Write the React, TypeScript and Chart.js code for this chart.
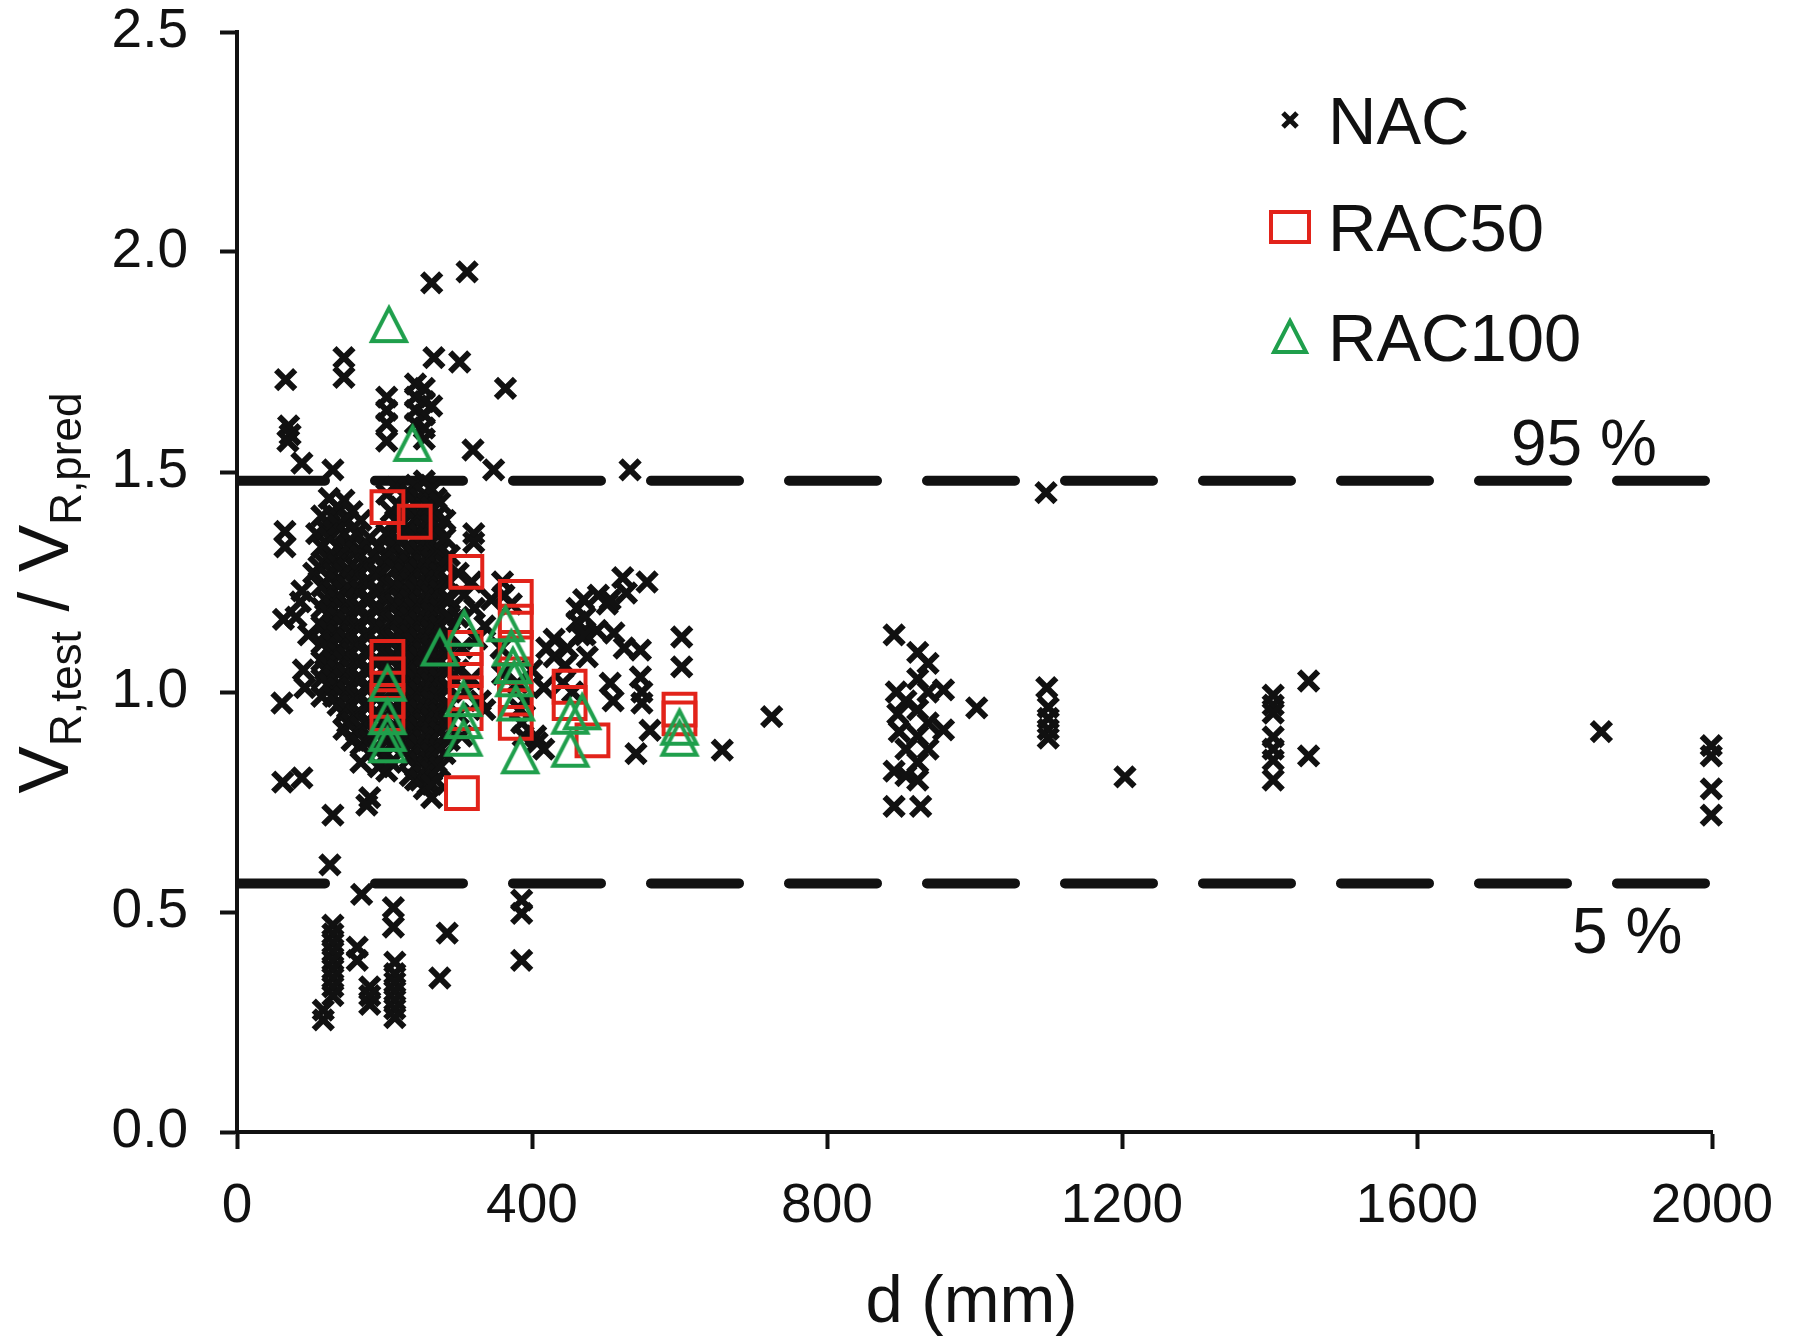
import React, { useEffect, useRef } from 'react';
import { Chart, registerables } from 'chart.js';

Chart.register(...registerables);

type P = [number, number];

// ---------- data ----------
const SERIES_NAMES = ['NAC', 'RAC50', 'RAC100'];
const X_TITLE = 'd (mm)';
const X_MIN = 0;
const X_MAX = 2000;
const X_STEP = 400;
const Y_MIN = 0;
const Y_MAX = 2.5;
const Y_STEP = 0.5;
const LIMIT_95 = 1.48;
const LIMIT_5 = 0.565;
const LIMIT_LABELS = ['95 %', '5 %'];

const NAC_LEFT: P[] = [
  [66, 1.71], [70, 1.605], [72, 1.585], [69, 1.57], [88, 1.52], [65, 1.365], [65, 1.33], [63, 1.165],
  [61, 0.975], [62, 0.795], [88, 0.805], [108, 1.36], [111, 1.285], [104, 1.27], [88, 1.23], [86, 1.205],
  [90, 1.05], [92, 1.01], [97, 1.13], [80, 1.17], [130, 1.505],
];

const NAC_CORE_A: P[] = [
  [115, 1.40], [115, 1.33], [115, 1.24], [115, 1.19], [115, 1.15], [115, 1.11], [115, 1.07], [115, 1.03], [115, 0.99],
  [120, 1.37], [120, 1.29], [120, 1.21], [120, 1.13], [120, 1.05],
  [125, 1.44], [125, 1.38], [125, 1.35], [125, 1.30], [125, 1.26], [125, 1.22], [125, 1.18], [125, 1.14], [125, 1.10], [125, 1.06], [125, 1.02],
  [131, 1.40], [131, 1.31], [131, 1.27], [131, 1.23], [131, 1.19], [131, 1.15], [131, 1.11], [131, 1.07], [131, 1.03], [131, 0.99],
  [137, 1.42], [137, 1.38], [137, 1.33], [137, 1.29], [137, 1.25], [137, 1.21], [137, 1.17], [137, 1.13], [137, 1.09], [137, 1.05], [137, 1.01], [137, 0.97],
  [145, 1.76], [145, 1.715], [145, 1.436], [145, 1.36], [145, 1.31], [145, 1.27], [145, 1.23], [145, 1.19], [145, 1.15], [145, 1.11], [145, 1.07], [145, 1.03], [145, 0.99], [145, 0.95], [145, 0.915],
  [150, 1.39], [150, 1.33], [150, 1.28], [150, 1.24], [150, 1.20], [150, 1.16], [150, 1.12], [150, 1.08], [150, 1.04], [150, 1.00], [150, 0.96], [150, 0.93],
  [156, 1.41], [156, 1.34], [156, 1.29], [156, 1.25], [156, 1.21], [156, 1.17], [156, 1.13], [156, 1.09], [156, 1.05], [156, 1.01], [156, 0.97], [156, 0.93], [156, 0.89],
  [162, 1.36], [162, 1.32], [162, 1.28], [162, 1.24], [162, 1.19], [162, 1.15], [162, 1.11], [162, 1.07], [162, 1.03], [162, 0.99], [162, 0.95], [162, 0.91],
  [168, 1.39], [168, 1.31], [168, 1.27], [168, 1.23], [168, 1.19], [168, 1.15], [168, 1.11], [168, 1.07], [168, 1.03], [168, 0.99], [168, 0.95], [168, 0.92], [168, 0.88], [168, 0.84],
  [174, 1.33], [174, 1.29], [174, 1.25], [174, 1.21], [174, 1.17], [174, 1.13], [174, 1.09], [174, 1.05], [174, 1.01], [174, 0.97], [174, 0.93], [174, 0.89],
  [180, 1.35], [180, 1.29], [180, 1.25], [180, 1.21], [180, 1.17], [180, 1.13], [180, 1.09], [180, 1.05], [180, 1.01], [180, 0.97], [180, 0.93], [180, 0.89], [180, 0.76],
  [186, 1.31], [186, 1.27], [186, 1.23], [186, 1.19], [186, 1.15], [186, 1.11], [186, 1.07], [186, 1.03], [186, 0.99], [186, 0.95], [186, 0.91], [186, 0.87],
  [192, 1.33], [192, 1.27], [192, 1.23], [192, 1.19], [192, 1.15], [192, 1.11], [192, 1.07], [192, 1.03], [192, 0.99], [192, 0.95], [192, 0.91], [192, 0.87], [192, 0.83],
];

const NAC_CORE_B: P[] = [
  [203, 1.67], [203, 1.64], [203, 1.61], [203, 1.57], [203, 1.45], [203, 1.36], [203, 1.31], [203, 1.26], [203, 1.22], [203, 1.18], [203, 1.14], [203, 1.10], [203, 1.06], [203, 1.02], [203, 0.98], [203, 0.94], [203, 0.90], [203, 0.86], [203, 0.82],
  [209, 1.41], [209, 1.33], [209, 1.29], [209, 1.24], [209, 1.20], [209, 1.16], [209, 1.12], [209, 1.08], [209, 1.04], [209, 1.00], [209, 0.96], [209, 0.92], [209, 0.88], [209, 0.84],
  [215, 1.465], [215, 1.39], [215, 1.33], [215, 1.28], [215, 1.24], [215, 1.20], [215, 1.16], [215, 1.12], [215, 1.08], [215, 1.04], [215, 1.00], [215, 0.96], [215, 0.92], [215, 0.88],
  [222, 1.42], [222, 1.38], [222, 1.34], [222, 1.29], [222, 1.25], [222, 1.21], [222, 1.17], [222, 1.13], [222, 1.09], [222, 1.05], [222, 1.01], [222, 0.97], [222, 0.93], [222, 0.89],
  [228, 1.45], [228, 1.37], [228, 1.31], [228, 1.27], [228, 1.23], [228, 1.19], [228, 1.15], [228, 1.11], [228, 1.07], [228, 1.03], [228, 0.99], [228, 0.95], [228, 0.91], [228, 0.87],
  [235, 1.45], [235, 1.41], [235, 1.37], [235, 1.33], [235, 1.29], [235, 1.25], [235, 1.21], [235, 1.17], [235, 1.13], [235, 1.09], [235, 1.05], [235, 1.01], [235, 0.97], [235, 0.93], [235, 0.89], [235, 0.85], [235, 0.81],
  [242, 1.70], [242, 1.67], [242, 1.64], [242, 1.61], [242, 1.47], [242, 1.43], [242, 1.39], [242, 1.35], [242, 1.31], [242, 1.27], [242, 1.23], [242, 1.19], [242, 1.15], [242, 1.11], [242, 1.07], [242, 1.03], [242, 0.99], [242, 0.95], [242, 0.91], [242, 0.87], [242, 0.83], [242, 0.80],
  [248, 1.44], [248, 1.40], [248, 1.36], [248, 1.32], [248, 1.28], [248, 1.24], [248, 1.20], [248, 1.16], [248, 1.12], [248, 1.08], [248, 1.04], [248, 1.00], [248, 0.96], [248, 0.92], [248, 0.88], [248, 0.84], [248, 0.80],
  [254, 1.69], [254, 1.66], [254, 1.63], [254, 1.60], [254, 1.575], [254, 1.48], [254, 1.45], [254, 1.41], [254, 1.37], [254, 1.33], [254, 1.29], [254, 1.25], [254, 1.21], [254, 1.17], [254, 1.13], [254, 1.09], [254, 1.05], [254, 1.01], [254, 0.97], [254, 0.93], [254, 0.89], [254, 0.85], [254, 0.81], [254, 0.78],
  [259, 1.43], [259, 1.39], [259, 1.35], [259, 1.31], [259, 1.27], [259, 1.23], [259, 1.19], [259, 1.15], [259, 1.11], [259, 1.07], [259, 1.03], [259, 0.99], [259, 0.95], [259, 0.91], [259, 0.87], [259, 0.83], [259, 0.79],
  [264, 1.93], [267, 1.76], [264, 1.65], [264, 1.46], [264, 1.42], [264, 1.38], [264, 1.34], [264, 1.30], [264, 1.26], [264, 1.22], [264, 1.18], [264, 1.14], [264, 1.10], [264, 1.06], [264, 1.02], [264, 0.98], [264, 0.94], [264, 0.90], [264, 0.86], [264, 0.82], [264, 0.79], [264, 0.76],
  [270, 1.44], [270, 1.40], [270, 1.36], [270, 1.32], [270, 1.28], [270, 1.24], [270, 1.20], [270, 1.16], [270, 1.12], [270, 1.08], [270, 1.04], [270, 1.00], [270, 0.96], [270, 0.92], [270, 0.88], [270, 0.84], [270, 0.80],
  [275, 1.43], [275, 1.37], [275, 1.32], [275, 1.27], [275, 1.23], [275, 1.19], [275, 1.15], [275, 1.11], [275, 1.07], [275, 1.03], [275, 0.99], [275, 0.95], [275, 0.91], [275, 0.87], [275, 0.83],
  [282, 1.39], [282, 1.35], [282, 1.29], [282, 1.25], [282, 1.21], [282, 1.17], [282, 1.13], [282, 1.09], [282, 1.05], [282, 1.01], [282, 0.97], [282, 0.93], [282, 0.90], [282, 0.86],
  [288, 1.31], [288, 1.25], [288, 1.21], [288, 1.17], [288, 1.13], [288, 1.09], [288, 1.05], [288, 1.01], [288, 0.97], [288, 0.93], [288, 0.89],
];

const NAC_MID: P[] = [
  [302, 1.75], [312, 1.955], [320, 1.55], [348, 1.505], [364, 1.69], [321, 1.36], [321, 1.34], [300, 1.27], [308, 1.22],
  [300, 1.17], [305, 1.10], [300, 1.05], [310, 1.00], [300, 0.95], [305, 0.90], [318, 1.25], [322, 1.19], [325, 1.12],
  [318, 1.03], [330, 0.98], [336, 0.96], [336, 1.15], [345, 1.21], [360, 1.25], [362, 1.22], [358, 1.10], [360, 1.04],
  [372, 1.20], [380, 1.02], [384, 0.96], [386, 0.93], [388, 0.90], [390, 0.98], [400, 1.05], [405, 0.90], [407, 0.885],
  [416, 1.01], [416, 0.87], [420, 1.10], [430, 1.08], [430, 1.12], [442, 1.02], [445, 1.06], [448, 1.10], [455, 1.00],
  [461, 1.19], [461, 1.16], [465, 1.13], [470, 1.21], [472, 1.17], [472, 1.13], [475, 1.08], [488, 1.14], [490, 1.22],
  [502, 1.20], [506, 1.21], [506, 1.02], [510, 0.98], [511, 1.134], [523, 1.26], [525, 1.10], [528, 1.225], [533, 1.505],
  [541, 0.86], [547, 1.095], [547, 1.034], [549, 1.00], [549, 0.975], [556, 1.25], [560, 0.913], [603, 1.125], [603, 1.057],
  [658, 0.868], [725, 0.944],
];

const NAC_LOW: P[] = [
  [130, 0.72], [176, 0.743], [126, 0.607], [169, 0.54], [212, 0.51], [212, 0.466], [285, 0.452], [275, 0.35],
  [386, 0.527], [386, 0.497], [386, 0.39], [130, 0.47], [130, 0.45], [130, 0.43], [130, 0.41], [130, 0.39],
  [130, 0.37], [130, 0.35], [130, 0.33], [130, 0.31], [117, 0.277], [117, 0.255], [163, 0.42], [163, 0.39],
  [180, 0.33], [180, 0.31], [180, 0.29], [214, 0.386], [214, 0.36], [214, 0.34], [214, 0.32], [214, 0.30],
  [214, 0.28], [214, 0.26],
];

const NAC_DEEP: P[] = [
  [891, 1.13], [894, 1.00], [896, 0.95], [898, 0.91], [891, 0.82], [891, 0.74], [907, 0.81], [907, 0.87], [907, 0.98],
  [923, 1.09], [923, 1.03], [923, 0.96], [923, 0.90], [923, 0.84], [923, 0.80], [927, 0.74], [937, 1.065], [937, 1.00],
  [937, 0.93], [937, 0.87], [958, 1.005], [958, 0.914], [1003, 0.964], [1097, 1.453], [1098, 1.01], [1100, 0.965],
  [1100, 0.94], [1100, 0.915], [1100, 0.895], [1204, 0.807], [1405, 0.993], [1405, 0.97], [1405, 0.952], [1405, 0.898],
  [1405, 0.87], [1405, 0.845], [1405, 0.80], [1453, 1.025], [1453, 0.855], [1850, 0.91], [1999, 0.878], [1999, 0.855],
  [1999, 0.78], [1999, 0.72],
];

const RAC50: P[] = [
  [204, 1.42], [241, 1.387], [311, 1.273], [378, 1.216], [378, 1.16], [378, 1.10], [377, 1.04], [378, 0.985], [378, 0.93],
  [310, 1.10], [310, 1.05], [310, 0.997], [310, 0.952], [305, 0.77], [204, 1.08], [204, 1.04], [204, 0.98], [204, 0.95],
  [451, 1.012], [451, 0.975], [482, 0.89], [600, 0.96], [600, 0.94],
];

const RAC100: P[] = [
  [206, 1.835], [238, 1.565], [308, 1.145], [275, 1.10], [364, 1.155], [372, 1.10], [374, 1.06], [376, 1.03], [378, 0.975],
  [384, 0.855], [204, 1.02], [204, 0.944], [204, 0.906], [204, 0.88], [307, 0.985], [307, 0.935], [307, 0.895],
  [452, 0.945], [452, 0.87], [468, 0.955], [600, 0.92], [600, 0.895],
];

const NAC_ALL: P[] = [...NAC_LEFT, ...NAC_CORE_A, ...NAC_CORE_B, ...NAC_MID, ...NAC_LOW, ...NAC_DEEP];

// ---------- styling ----------
const RED = '#e2231a';
const GREEN = '#1f9f4c';
const INK = '#111111';
const FONT = '"Liberation Sans", Arial, Helvetica, sans-serif';

const toXY = (arr: P[]) => arr.map(([x, y]) => ({ x, y }));

function makeTriangle(color: string, w: number, h: number, lw: number): HTMLCanvasElement {
  const c = document.createElement('canvas');
  const W = Math.ceil(w + lw * 2 + 2);
  const H = Math.ceil(h + lw * 2 + 2);
  c.width = W;
  c.height = H;
  const g = c.getContext('2d')!;
  g.strokeStyle = color;
  g.lineWidth = lw;
  g.lineJoin = 'miter';
  g.beginPath();
  g.moveTo(W / 2, (H - h) / 2);
  g.lineTo(W / 2 + w / 2, (H + h) / 2);
  g.lineTo(W / 2 - w / 2, (H + h) / 2);
  g.closePath();
  g.stroke();
  return c;
}

const overlayPlugin = {
  id: 'overlay',
  afterDraw(chart: any) {
    const ctx: CanvasRenderingContext2D = chart.ctx;
    const ys = chart.scales.y;
    const area = chart.chartArea;
    ctx.save();
    ctx.fillStyle = INK;
    ctx.textBaseline = 'alphabetic';

    // x title
    ctx.font = `67px ${FONT}`;
    ctx.textAlign = 'center';
    ctx.fillText(X_TITLE, (area.left + area.right) / 2 - 3, 1322);

    // y title with subscripts
    const parts: { t: string; sub: boolean }[] = [
      { t: 'V', sub: false },
      { t: 'R,test', sub: true },
      { t: ' / ', sub: false },
      { t: 'V', sub: false },
      { t: 'R,pred', sub: true },
    ];
    const mainF = `71px ${FONT}`;
    const subF = `44px ${FONT}`;
    let total = 0;
    for (const p of parts) {
      ctx.font = p.sub ? subF : mainF;
      total += ctx.measureText(p.t).width;
    }
    ctx.save();
    ctx.translate(68, 593);
    ctx.rotate(-Math.PI / 2);
    ctx.textAlign = 'left';
    let cx = -total / 2;
    for (const p of parts) {
      ctx.font = p.sub ? subF : mainF;
      ctx.fillText(p.t, cx, p.sub ? 13 : 0);
      cx += ctx.measureText(p.t).width;
    }
    ctx.restore();

    // limit labels
    ctx.font = `64px ${FONT}`;
    ctx.textAlign = 'left';
    ctx.fillText(LIMIT_LABELS[0], 1511, ys.getPixelForValue(LIMIT_95) - 16);
    ctx.fillText(LIMIT_LABELS[1], 1572, ys.getPixelForValue(LIMIT_5) + 70);

    // legend
    const lx = 1290;
    const rows = [120, 227, 337];
    ctx.strokeStyle = INK;
    ctx.lineWidth = 5;
    ctx.beginPath();
    const s = 7;
    ctx.moveTo(lx - s, rows[0] - s);
    ctx.lineTo(lx + s, rows[0] + s);
    ctx.moveTo(lx + s, rows[0] - s);
    ctx.lineTo(lx - s, rows[0] + s);
    ctx.stroke();
    ctx.strokeStyle = RED;
    ctx.lineWidth = 4;
    ctx.strokeRect(lx - 19, rows[1] - 15, 38, 30);
    ctx.strokeStyle = GREEN;
    ctx.lineWidth = 4;
    ctx.beginPath();
    ctx.moveTo(lx, rows[2] - 16);
    ctx.lineTo(lx + 16, rows[2] + 15);
    ctx.lineTo(lx - 16, rows[2] + 15);
    ctx.closePath();
    ctx.stroke();

    ctx.fillStyle = INK;
    ctx.font = `67px ${FONT}`;
    SERIES_NAMES.forEach((n, i) => {
      ctx.fillText(n, 1328, rows[i] + 24);
    });
    ctx.restore();
  },
};

export default function App() {
  const ref = useRef<HTMLCanvasElement | null>(null);

  useEffect(() => {
    if (!ref.current) return;
    const tri = makeTriangle(GREEN, 34, 33, 4);
    const dashLine = (y: number) => ({
      type: 'line' as const,
      data: [{ x: X_MIN, y }, { x: X_MAX, y }],
      showLine: true,
      borderColor: INK,
      borderWidth: 10,
      borderDash: [88, 50],
      borderCapStyle: 'round' as const,
      pointRadius: 0,
      fill: false,
      order: 10,
    });
    const chart = new Chart(ref.current, {
      type: 'scatter',
      data: {
        datasets: [
          dashLine(LIMIT_95) as any,
          dashLine(LIMIT_5) as any,
          {
            label: SERIES_NAMES[0],
            data: toXY(NAC_ALL),
            pointStyle: 'crossRot',
            pointRadius: 13.5,
            pointBorderWidth: 6,
            borderColor: INK,
            backgroundColor: INK,
            clip: false,
            order: 3,
          },
          {
            label: SERIES_NAMES[1],
            data: toXY(RAC50),
            pointStyle: 'rect',
            pointRadius: 22.5,
            pointBorderWidth: 4,
            borderColor: RED,
            backgroundColor: 'rgba(0,0,0,0)',
            clip: false,
            order: 2,
          },
          {
            label: SERIES_NAMES[2],
            data: toXY(RAC100),
            pointStyle: tri as any,
            pointRadius: 18,
            clip: false,
            order: 1,
          },
        ],
      },
      options: {
        animation: false,
        responsive: false,
        devicePixelRatio: 1,
        layout: { padding: { left: 0, top: 32, right: 85, bottom: 0 } },
        plugins: {
          legend: { display: false },
          tooltip: { enabled: false },
          title: { display: false },
        },
        scales: {
          x: {
            type: 'linear',
            min: X_MIN,
            max: X_MAX,
            afterFit: (s: any) => {
              s.height = 1344 - 1132;
              s.paddingLeft = 0;
              s.paddingRight = 0;
            },
            grid: { drawOnChartArea: false, drawTicks: true, tickLength: 17, tickWidth: 4, tickColor: INK },
            border: { display: true, color: INK, width: 4 },
            ticks: {
              stepSize: X_STEP,
              padding: 30,
              color: INK,
              font: { family: FONT, size: 55, lineHeight: 1 },
              maxRotation: 0,
              callback: (v: any) => String(v),
            },
          },
          y: {
            type: 'linear',
            min: Y_MIN,
            max: Y_MAX,
            afterFit: (s: any) => {
              s.width = 237;
              s.paddingTop = 0;
              s.paddingBottom = 0;
            },
            grid: { drawOnChartArea: false, drawTicks: true, tickLength: 17, tickWidth: 4, tickColor: INK },
            border: { display: true, color: INK, width: 4 },
            ticks: {
              stepSize: Y_STEP,
              padding: 32,
              color: INK,
              font: { family: FONT, size: 55, lineHeight: 1 },
              callback: (v: any) => Number(v).toFixed(1),
            },
          },
        },
      },
      plugins: [overlayPlugin],
    });
    return () => chart.destroy();
  }, []);

  return (
    <div style={{ position: 'absolute', left: 0, top: 0, width: 1797, height: 1344, background: '#fff' }}>
      <canvas ref={ref} width={1797} height={1344} style={{ width: 1797, height: 1344, display: 'block' }} />
    </div>
  );
}
